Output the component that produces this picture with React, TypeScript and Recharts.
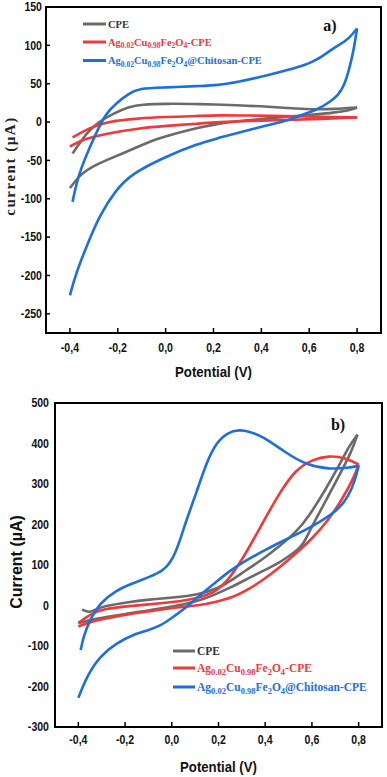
import React from 'react';
import { LineChart, Line, XAxis, YAxis, ReferenceArea } from 'recharts';

type P = [number, number];

// ---------- Panel a) : potential (V) vs current (µA) ----------
const aCpeForward: P[] = [[-0.4,-86],[-0.375,-76],[-0.35,-67],[-0.3,-57],[-0.25,-50],[-0.18,-41],[-0.1,-30],[-0.04,-22],[0.05,-14],[0.14,-7],[0.22,-2],[0.3,1],[0.43,5],[0.55,8],[0.63,10],[0.7,12],[0.77,15.5],[0.8,19]];
const aCpeReverse: P[] = [[0.8,19],[0.7,17],[0.63,16.5],[0.55,17.5],[0.43,20],[0.3,22],[0.14,23.5],[0.0,24],[-0.1,23],[-0.154,20],[-0.22,11],[-0.278,0.5],[-0.32,-11],[-0.35,-23],[-0.389,-41]];
const aAgForward: P[] = [[-0.4,-32],[-0.35,-23],[-0.25,-15],[-0.11,-8],[0.0,-5],[0.14,-2],[0.22,0],[0.35,1.5],[0.5,2.6],[0.65,4],[0.8,6]];
const aAgReverse: P[] = [[0.8,6],[0.65,7],[0.5,7.8],[0.35,8.5],[0.22,9],[0.14,8],[0.0,6.5],[-0.11,5],[-0.25,0.5],[-0.32,-8],[-0.389,-20]];
const aChitForward: P[] = [[-0.4,-226],[-0.375,-197],[-0.32,-154],[-0.278,-123],[-0.21,-89],[-0.14,-67],[0,-45],[0.137,-28],[0.22,-21],[0.3,-14],[0.427,-4],[0.52,3],[0.565,9],[0.634,16],[0.69,27],[0.72,35],[0.745,46],[0.77,72],[0.787,96],[0.8,122]];
const aChitReverse: P[] = [[0.8,122],[0.779,114],[0.759,107],[0.69,94],[0.634,81],[0.565,72],[0.427,61],[0.3,52],[0.22,48],[0.137,47],[0,45],[-0.112,44],[-0.154,37],[-0.209,24],[-0.25,11],[-0.292,-15],[-0.334,-45],[-0.368,-73],[-0.389,-104]];

// ---------- Panel b) ----------
const bCpeForward: P[] = [[-0.384,-10],[-0.365,-15],[-0.349,-16.5],[-0.32,-9],[-0.292,-2],[-0.193,8],[-0.094,15],[0,19],[0.119,27],[0.204,44],[0.25,60],[0.318,87],[0.389,114],[0.46,146],[0.531,180],[0.587,220],[0.658,286],[0.715,344],[0.76,395],[0.795,422]];
const bCpeReverse: P[] = [[0.795,422],[0.77,380],[0.715,319],[0.665,265],[0.616,212],[0.587,180],[0.566,155],[0.54,138],[0.516,128],[0.46,105],[0.417,93],[0.389,85],[0.318,64],[0.25,44],[0.19,28],[0.119,12],[0.06,4],[-0.05,-8],[-0.2,-21],[-0.335,-33],[-0.4,-44]];
const bAgForward: P[] = [[-0.4,-52],[-0.335,-37],[-0.193,-22],[-0.094,-14],[0,-6],[0.119,0],[0.19,9],[0.261,20],[0.318,36],[0.389,62],[0.46,93],[0.531,128],[0.601,165],[0.672,212],[0.729,262],[0.775,310],[0.8,348]];
const bAgReverse: P[] = [[0.8,348],[0.743,365],[0.672,370],[0.601,360],[0.531,336],[0.46,278],[0.374,188],[0.303,114],[0.233,56],[0.19,37],[0.162,28],[0.1,17],[0.048,11],[-0.094,3],[-0.193,-2],[-0.292,-8],[-0.35,-22],[-0.4,-43]];
const bChitForward: P[] = [[-0.4,-228],[-0.364,-175],[-0.308,-125],[-0.237,-93],[-0.166,-72],[-0.095,-60],[-0.05,-50],[-0.01,-35],[0.06,-6],[0.119,25],[0.19,58],[0.247,85],[0.303,107],[0.417,142],[0.46,155],[0.545,179],[0.601,195],[0.715,236],[0.757,270],[0.785,310],[0.8,345]];
const bChitReverse: P[] = [[0.8,345],[0.757,340],[0.672,336],[0.573,348],[0.488,377],[0.389,418],[0.33,430],[0.289,434],[0.24,428],[0.19,402],[0.148,352],[0.105,278],[0.063,212],[0.041,171],[0.006,114],[-0.037,85],[-0.094,71],[-0.166,55],[-0.237,38],[-0.308,6],[-0.35,-35],[-0.378,-76],[-0.39,-110]];

// ---------- Axes ----------
const potentialTicks = [-0.4, -0.2, 0, 0.2, 0.4, 0.6, 0.8];
const potentialDomain = [-0.5, 0.9];
const aCurrentTicks = [150, 100, 50, 0, -50, -100, -150, -200, -250];
const aCurrentMinorTicks = [125, 75, 25, -25, -75, -125, -175, -225];
const aCurrentDomain = [-275, 150];
const bCurrentTicks = [500, 400, 300, 200, 100, 0, -100, -200, -300];
const bCurrentDomain = [-300, 500];

const legendLabels = {
  cpe: [['CPE', false]] as [string, boolean][],
  ag: [['Ag', false], ['0.02', true], ['Cu', false], ['0.98', true], ['Fe', false], ['2', true], ['O', false], ['4', true], ['-CPE', false]] as [string, boolean][],
  chit: [['Ag', false], ['0.02', true], ['Cu', false], ['0.98', true], ['Fe', false], ['2', true], ['O', false], ['4', true], ['@Chitosan-CPE', false]] as [string, boolean][],
};

const GRAY = '#6b6b6b';
const RED = '#f03a3a';
const BLUE = '#1c6fe0';
const SANS = '"Liberation Sans", Arial, sans-serif';
const SERIF = '"Liberation Serif", "Times New Roman", serif';

const toData = (p: P[]) => p.map(([x, y]) => ({ x, y }));
const fmtV = (v: number) => (Math.abs(v) < 1e-9 ? 0 : v).toFixed(1).replace('.', ',');

const XTick = (props: any) => {
  const { x, y, payload, gap, inner } = props;
  const axisY = y - gap;
  return (
    <g>
      {inner ? <line x1={x} x2={x} y1={axisY} y2={axisY - inner} stroke="#000" strokeWidth={1.5} /> : null}
      <g transform={`translate(${x},${y}) scale(0.88,1)`}>
        <text x={0} y={0} dy="0.36em" textAnchor="middle" fontFamily={SANS} fontWeight="bold" fontSize={12} fill="#111">
          {fmtV(payload.value)}
        </text>
      </g>
    </g>
  );
};

const YTick = (props: any) => {
  const { x, y, payload, gap, inner } = props;
  const axisX = x + gap;
  return (
    <g>
      {inner ? <line x1={axisX} x2={axisX + inner} y1={y} y2={y} stroke="#000" strokeWidth={1.5} /> : null}
      <g transform={`translate(${x},${y}) scale(0.88,1)`}>
        <text x={0} y={0} dy="0.36em" textAnchor="end" fontFamily={SANS} fontWeight="bold" fontSize={12} fill="#111">
          {payload.value}
        </text>
      </g>
    </g>
  );
};

const LegendText = ({ x, y, parts, fs, subFs, shift, fill }: any) => {
  let sub = false;
  const spans = parts.map(([t, isSub]: [string, boolean], i: number) => {
    let dy = 0;
    if (isSub && !sub) dy = shift;
    if (!isSub && sub) dy = -shift;
    sub = isSub;
    return (
      <tspan key={i} dy={dy} fontSize={isSub ? subFs : fs}>
        {t}
      </tspan>
    );
  });
  return (
    <text x={x} y={y} fontFamily={SERIF} fontWeight="bold" fontSize={fs} fill={fill}>
      {spans}
    </text>
  );
};

const LegendRow = ({ x, y, len, color, textColor, parts, fs, subFs, shift }: any) => (
  <g>
    <line x1={x} x2={x + len} y1={y} y2={y} stroke={color} strokeWidth={3} />
    <LegendText x={x + len + 2} y={y + fs * 0.34} parts={parts} fs={fs} subFs={subFs} shift={shift} fill={textColor} />
  </g>
);

const axisLine = { stroke: '#000', strokeWidth: 2 };

const Series = (color: string, f: P[], r: P[], id: string) => [
  <Line key={id + 'f'} data={toData(f)} dataKey="y" type="basis" stroke={color} strokeWidth={2.6} dot={false} activeDot={false} isAnimationActive={false} />,
  <Line key={id + 'r'} data={toData(r)} dataKey="y" type="basis" stroke={color} strokeWidth={2.6} dot={false} activeDot={false} isAnimationActive={false} />,
];

export default function App() {
  return (
    <div style={{ position: 'absolute', left: 0, top: 0, width: 387, height: 777, background: '#fff', overflow: 'hidden' }}>
      <div style={{ position: 'absolute', left: 0, top: 0 }}>
        <LineChart width={387} height={390} margin={{ top: 7, right: 6, left: 0, bottom: 0 }}>
          <XAxis
            dataKey="x" type="number" domain={potentialDomain} ticks={potentialTicks} interval={0} allowDataOverflow
            height={57} tickSize={0} tickMargin={15} tickLine={false} axisLine={axisLine}
            tick={(p: any) => <XTick {...p} gap={15} inner={5} />}
          />
          <YAxis
            type="number" domain={aCurrentDomain} ticks={aCurrentTicks} interval={0} allowDataOverflow
            width={46} tickSize={0} tickMargin={4} tickLine={false} axisLine={axisLine}
            tick={(p: any) => <YTick {...p} gap={4} inner={4} />}
          />
          <YAxis
            yAxisId="r" orientation="right" mirror type="number" domain={aCurrentDomain} ticks={aCurrentMinorTicks}
            interval={0} allowDataOverflow width={0} tick={false} tickSize={5} axisLine={false}
            tickLine={{ stroke: '#000', strokeWidth: 1.5 }}
          />
          <ReferenceArea x1={potentialDomain[0]} x2={potentialDomain[1]} y1={aCurrentDomain[0]} y2={aCurrentDomain[1]} fill="none" fillOpacity={0} stroke="#000" strokeWidth={2} ifOverflow="visible" />
          {Series(GRAY, aCpeForward, aCpeReverse, 'acpe')}
          {Series(RED, aAgForward, aAgReverse, 'aag')}
          {Series(BLUE, aChitForward, aChitReverse, 'achit')}
        </LineChart>
      </div>
      <div style={{ position: 'absolute', left: 0, top: 390 }}>
        <LineChart width={387} height={387} margin={{ top: 13, right: 5, left: 0, bottom: 0 }}>
          <XAxis
            dataKey="x" type="number" domain={potentialDomain} ticks={potentialTicks} interval={0} allowDataOverflow
            height={50} tickSize={0} tickMargin={13} tickLine={false} axisLine={axisLine}
            tick={(p: any) => <XTick {...p} gap={13} inner={5} />}
          />
          <YAxis
            type="number" domain={bCurrentDomain} ticks={bCurrentTicks} interval={0} allowDataOverflow
            width={55} tickSize={0} tickMargin={6} tickLine={false} axisLine={axisLine}
            tick={(p: any) => <YTick {...p} gap={6} inner={0} />}
          />
          <ReferenceArea x1={potentialDomain[0]} x2={potentialDomain[1]} y1={bCurrentDomain[0]} y2={bCurrentDomain[1]} fill="none" fillOpacity={0} stroke="#000" strokeWidth={2} ifOverflow="visible" />
          {Series(GRAY, bCpeForward, bCpeReverse, 'bcpe')}
          {Series(RED, bAgForward, bAgReverse, 'bag')}
          {Series(BLUE, bChitForward, bChitReverse, 'bchit')}
        </LineChart>
      </div>
      <svg width={387} height={777} style={{ position: 'absolute', left: 0, top: 0, pointerEvents: 'none' }}>
        <g transform="translate(213.5,372) scale(0.88,1)">
          <text x={0} y={0} dy="0.36em" textAnchor="middle" fontFamily={SANS} fontWeight="bold" fontSize={15} fill="#111">Potential (V)</text>
        </g>
        <text x={0} y={0} transform="translate(10,166) rotate(-90)" dy="0.36em" textAnchor="middle" fontFamily={SERIF} fontWeight="bold" fontSize={15} letterSpacing={1.5} fill="#222">current (µA)</text>
        <text x={330} y={25} dy="0.36em" textAnchor="middle" fontFamily={SERIF} fontWeight="bold" fontSize={16} fill="#111">a)</text>
        <LegendRow x={83} y={24} len={23} color={GRAY} textColor="#333" parts={legendLabels.cpe} fs={10.5} subFs={7.5} shift={2.5} />
        <LegendRow x={83} y={42} len={23} color={RED} textColor={RED} parts={legendLabels.ag} fs={10.5} subFs={7.5} shift={2.5} />
        <LegendRow x={83} y={60.5} len={23} color={BLUE} textColor={BLUE} parts={legendLabels.chit} fs={10.5} subFs={7.5} shift={2.5} />
        <g transform="translate(218.5,767) scale(0.88,1)">
          <text x={0} y={0} dy="0.36em" textAnchor="middle" fontFamily={SANS} fontWeight="bold" fontSize={15} fill="#111">Potential (V)</text>
        </g>
        <text x={0} y={0} transform="translate(16,562) rotate(-90)" dy="0.36em" textAnchor="middle" fontFamily={SANS} fontWeight="bold" fontSize={16} fill="#111">Current (µA)</text>
        <text x={338} y={424} dy="0.36em" textAnchor="middle" fontFamily={SERIF} fontWeight="bold" fontSize={16} fill="#111">b)</text>
        <LegendRow x={173} y={651} len={22} color={GRAY} textColor="#333" parts={legendLabels.cpe} fs={11.5} subFs={8.5} shift={3} />
        <LegendRow x={173} y={668} len={22} color={RED} textColor={RED} parts={legendLabels.ag} fs={11.5} subFs={8.5} shift={3} />
        <LegendRow x={173} y={687} len={22} color={BLUE} textColor={BLUE} parts={legendLabels.chit} fs={11.5} subFs={8.5} shift={3} />
      </svg>
    </div>
  );
}
